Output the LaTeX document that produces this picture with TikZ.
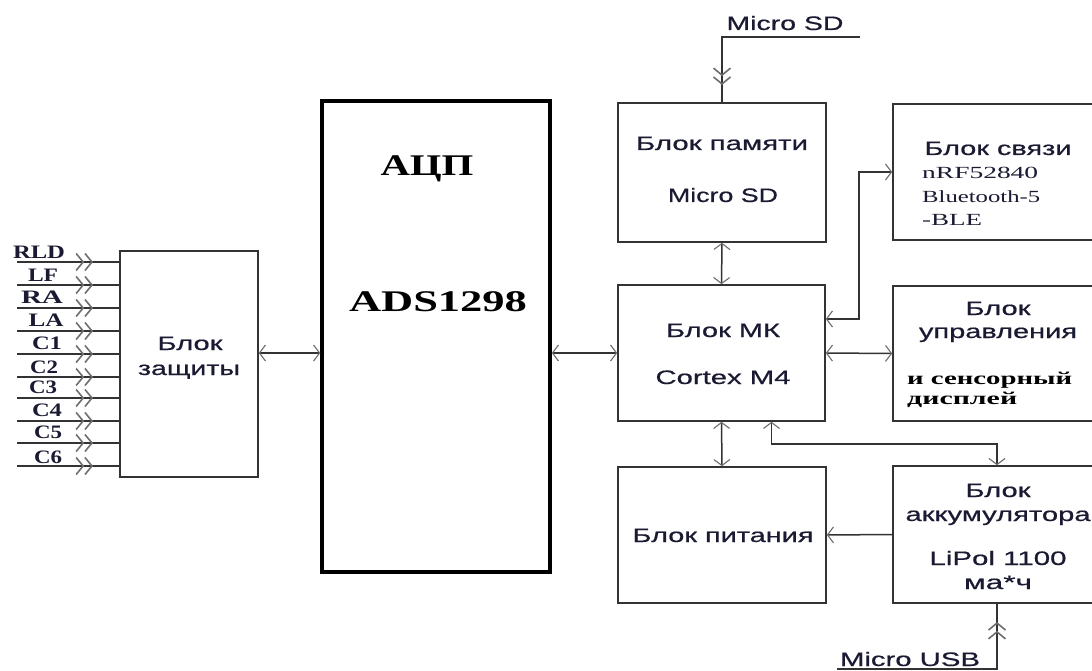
\documentclass[tikz,border=0pt]{standalone}
\usepackage{fontspec}
\setmainfont{Liberation Serif}
\setsansfont{Liberation Sans}
\newfontfamily\sfx{Liberation Sans}[FakeBold=0.5]
\usepackage{graphicx}
\usetikzlibrary{arrows.meta}
\definecolor{linec}{HTML}{333333}
\definecolor{chevc}{HTML}{6E6E6E}
\definecolor{txtc}{HTML}{1A1A33}
\newsavebox\fwbox
\newcommand\fw[2]{\sbox\fwbox{#2}\pgfmathsetmacro\fwr{#1/\the\wd\fwbox}\scalebox{\fwr}[1]{\usebox\fwbox}}
\begin{document}
\begin{tikzpicture}[x=1pt,y=-1pt,
  sb/.tip={Straight Barb[length=6pt,width=16pt,line width=1.1pt,color=chevc]},
  wire/.style={draw=linec, line width=1.5pt},
  bi/.style={wire, arrows={sb-sb}},
  dcw/.style={wire, arrows={-Straight Barb[length=7pt,width=17pt,line width=1.6pt,color=chevc,sep=0pt]Straight Barb[length=7pt,width=17pt,line width=1.6pt,color=chevc]}},
  bx/.style={draw=linec, line width=1.6pt, inner sep=0pt, rectangle},
  sf/.style={font=\fontsize{19.5}{21}\sfx, text=txtc, inner sep=0pt, text height=14pt, text depth=0pt},
  lab/.style={font=\fontsize{19}{20}\rmfamily\bfseries, text=txtc, inner sep=0pt, text height=13pt, text depth=0pt},
  adc/.style={font=\fontsize{30}{32}\rmfamily\bfseries, text=black, inner sep=0pt, text height=20pt, text depth=0pt},
  bt/.style={font=\fontsize{17}{18}\rmfamily, text=txtc, inner sep=0pt, text height=11.5pt, text depth=0pt, anchor=west},
  bs/.style={font=\fontsize{18}{19}\rmfamily\bfseries, text=black, inner sep=0pt, text height=8.5pt, text depth=0pt, anchor=west}
]
\useasboundingbox (0,0) rectangle (1092,671);
\clip (0,0) rectangle (1092,671);
\fill[white] (0,0) rectangle (1092,671);

% boxes
\node[bx, minimum width=138pt, minimum height=226pt] (P) at (189,364) {};
\node[draw=black, line width=3.5pt, inner sep=0pt, minimum width=228pt, minimum height=471pt] (A) at (436,336.5) {};
\node[bx, minimum width=208pt, minimum height=139pt] (M) at (722,172.5) {};
\node[bx, minimum width=207pt, minimum height=136pt] (MK) at (721.5,353) {};
\node[bx, minimum width=208pt, minimum height=136pt] (PW) at (722,535) {};
\node[bx, minimum width=208pt, minimum height=136pt] (BT) at (997,172) {};
\node[bx, minimum width=208pt, minimum height=135pt] (CT) at (997,353.5) {};
\node[bx, minimum width=208pt, minimum height=137pt] (BA) at (997,534.5) {};

% texts
\node[sf] (tP1) at (190,343) {\fw{65}{Блок}};
\node[sf] (tP2) at (189,368) {\fw{102}{защиты}};
\node[adc] (tA1) at (427,166) {\fw{93}{АЦП}};
\node[adc] (tA2) at (438,301) {\fw{178}{ADS1298}};
\node[sf] (tM1) at (722,143) {\fw{172}{Блок памяти}};
\node[sf] (tM2) at (723,195) {\fw{110}{Micro SD}};
\node[sf] (tK1) at (723,330) {\fw{114}{Блок МК}};
\node[sf] (tK2) at (723,377) {\fw{135}{Cortex M4}};
\node[sf] (tW1) at (723,535) {\fw{181}{Блок питания}};
\node[sf] (tB1) at (998,148) {\fw{147}{Блок связи}};
\node[bt] (tB2) at (922,173) {\fw{116}{nRF52840}};
\node[bt] (tB3) at (922,197) {\fw{118}{Bluetooth-5}};
\node[bt] (tB4) at (922,220) {\fw{60}{-BLE}};
\node[sf] (tC1) at (998,308) {\fw{65}{Блок}};
\node[sf] (tC2) at (998,331) {\fw{158}{управления}};
\node[bs] (tC3) at (907,380) {\fw{165}{и сенсорный}};
\node[bs] (tC4) at (907,400) {\fw{110}{дисплей}};
\node[sf] (tR1) at (998,490) {\fw{65}{Блок}};
\node[sf] (tR2) at (998,514) {\fw{185}{аккумулятора}};
\node[sf] (tR3) at (998,558) {\fw{137}{LiPol 1100}};
\node[sf] (tR4) at (998,582) {\fw{68}{ма*ч}};
\node[sf] (tSD) at (785,23) {\fw{117}{Micro SD}};
\node[sf] (tUSB) at (910,659) {\fw{140}{Micro USB}};

% input labels
\foreach \t/\x/\y/\w in {RLD/39/252/52, LF/43/275/30, RA/42/297/42, LA/46/320/35, C1/47/343/30, C2/44/367/28, C3/43/387/28, C4/47/410/30, C5/48/432/28, C6/48/457/28}
  \node[lab] (l\t) at (\x,\y) {\fw{\w}{\t}};

% input lines
\foreach \y [count=\i] in {262,285,308,331,354,377,398,421,443,466} {
  \coordinate (in\i) at (17,\y);
  \draw[wire] (in\i) -- (in\i -| P.west);
  \draw[dcw] (in\i) -- ++(76,0);
}

% connectors
\draw[bi] (P.east |- MK.west) -- (A.west |- MK.west);
\draw[bi] (A.east |- MK.west) -- (MK.west);
\draw[bi] (M.south) -- (MK.north);
\draw[bi] ([yshift=34pt]MK.east) -- ++(33,0) |- (BT.west);
\draw[bi] (MK.east) -- (CT.west);
\draw[bi] (MK.south) -- (PW.north);
\draw[bi] ([xshift=50pt]MK.south) -- ++(0,22) -| (BA.north);
\draw[wire, arrows={-sb}] (BA.west) -- (PW.east);

% Micro SD input
\coordinate (sdin) at (860,37);
\draw[wire] (sdin) -- (M.north |- sdin) -- (M.north);
\draw[dcw] (M.north |- sdin) -- ++(0,48);

% Micro USB input
\coordinate (usbin) at (837,669);
\draw[wire] (usbin) -- (BA.south |- usbin) -- (BA.south);
\draw[dcw] (BA.south |- usbin) -- ++(0,-47);
\end{tikzpicture}
\end{document}
